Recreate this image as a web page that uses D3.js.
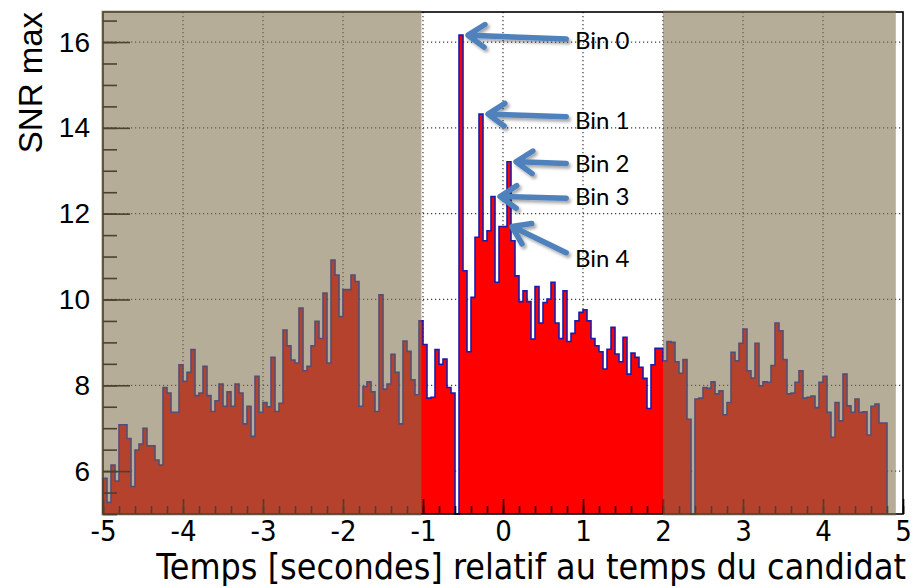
<!DOCTYPE html>
<html>
<head>
<meta charset="utf-8">
<script src="https://cdn.jsdelivr.net/npm/d3@7"></script>
<style>
  body { margin: 0; background: #fff; }
  svg { display: block; }
</style>
</head>
<body>
<div id="chart"></div>
<script>
// histogram bins: start, width and max SNR of each bin (0 = empty bin)
var binStart = -5;
var binWidth = 0.05;
var snrValues = [
  5.83, 5.27, 6.14, 5.77, 7.08, 7.08, 6.76, 5.64, 6.49, 6.63,
  7.00, 6.59, 6.59, 6.26, 6.14, 7.95, 7.82, 7.37, 7.37, 8.48,
  8.09, 8.30, 8.83, 7.76, 7.82, 8.44, 7.76, 7.39, 7.64, 8.03,
  7.51, 7.85, 7.51, 8.03, 7.82, 7.10, 7.51, 6.81, 8.21, 7.37,
  7.60, 7.50, 8.65, 7.39, 7.58, 9.29, 8.92, 8.59, 8.52, 9.80,
  8.34, 8.44, 8.92, 9.49, 9.09, 10.15, 8.52, 10.92, 10.57, 9.60,
  10.23, 10.23, 10.57, 10.42, 7.51, 7.97, 8.08, 7.85, 7.39, 10.11,
  7.91, 8.03, 8.72, 8.30, 7.10, 9.03, 8.79, 8.13, 7.78, 9.50,
  8.95, 7.70, 7.72, 8.83, 8.49, 8.61, 7.95, 7.82, 0, 16.16,
  10.67, 8.78, 10.05, 11.45, 14.32, 11.37, 11.60, 12.40, 10.40, 11.70,
  11.70, 13.21, 11.37, 10.55, 9.95, 10.20, 9.95, 9.08, 10.30, 9.45,
  9.93, 10.01, 10.40, 9.45, 9.09, 10.20, 9.02, 9.21, 9.50, 9.70,
  9.76, 9.50, 9.09, 8.92, 8.78, 8.38, 8.84, 9.35, 8.73, 8.55,
  9.12, 8.26, 8.75, 8.65, 8.42, 8.16, 7.46, 8.48, 8.86, 8.86,
  8.57, 9.02, 9.00, 8.55, 8.28, 8.60, 7.21, 0, 7.68, 7.70,
  7.95, 7.93, 8.08, 7.80, 7.87, 7.31, 7.60, 8.77, 8.57, 8.98,
  9.31, 8.34, 8.17, 8.98, 7.99, 8.08, 8.07, 8.46, 9.45, 9.27,
  8.60, 7.80, 7.82, 8.07, 8.34, 7.70, 7.72, 7.75, 7.48, 8.07,
  8.21, 7.37, 6.79, 7.60, 7.17, 8.26, 7.52, 7.37, 7.68, 7.37,
  7.38, 6.84, 7.51, 7.56, 7.12, 7.12
];

// shaded (off-source) time windows
var shadeRanges = [[-5.02, -1.02], [2.0, 4.91]];

// axis ticks
var xMajorTicks = [-5, -4, -3, -2, -1, 0, 1, 2, 3, 4, 5];
var yMajorTicks = [6, 8, 10, 12, 14, 16];

// annotations: label, bin index, label baseline and arrow tail height (SNR units)
var annotLabels = ["Bin 0", "Bin 1", "Bin 2", "Bin 3", "Bin 4"];
var annotBins = [89, 94, 101, 97, 100];
var annotLabelY = [15.84, 13.97, 12.98, 12.21, 10.76];
var annotTailY = [16.07, 14.26, 13.17, 12.36, 11.09];
var annotLabelX = 0.9;
var annotTailX = 0.79;

var svgWidth = 914;
var svgHeight = 588;

var frame = { left: 103, right: 903, top: 12, bottom: 514 };

var svg = d3.select("#chart")
  .append("svg")
  .attr("width", svgWidth)
  .attr("height", svgHeight);

var defs = svg.append("defs");
var shadow = defs.append("filter")
  .attr("id", "shadow")
  .attr("x", "-20%").attr("y", "-50%")
  .attr("width", "140%").attr("height", "200%");
shadow.append("feDropShadow")
  .attr("dx", 2).attr("dy", 2.5)
  .attr("stdDeviation", 1.5)
  .attr("flood-color", "#000")
  .attr("flood-opacity", 0.35);

var x = d3.scaleLinear()
  .domain([-5, 5])
  .range([frame.left, frame.right]);

var y = d3.scaleLinear()
  .domain([5, 16.7])
  .range([frame.bottom, frame.top])
  .clamp(true);

// dotted grid
var grid = svg.append("g")
  .attr("stroke", "#3a3a3a")
  .attr("stroke-width", 1.2)
  .attr("stroke-dasharray", "1.2,2.8");

grid.selectAll(".vgrid")
  .data(xMajorTicks.slice(1, -1))
  .enter()
  .append("line")
  .attr("x1", d => x(d))
  .attr("x2", d => x(d))
  .attr("y1", frame.top)
  .attr("y2", frame.bottom);

grid.selectAll(".hgrid")
  .data(yMajorTicks)
  .enter()
  .append("line")
  .attr("x1", frame.left)
  .attr("x2", frame.right)
  .attr("y1", d => y(d))
  .attr("y2", d => y(d));

// histogram as a step outline
var stepPoints = [[binStart, 0]];
snrValues.forEach(function(v, i) {
  var x0 = binStart + i * binWidth;
  stepPoints.push([x0, v]);
  stepPoints.push([x0 + binWidth, v]);
});
stepPoints.push([binStart + snrValues.length * binWidth, 0]);

var stepLine = d3.line()
  .x(d => x(d[0]))
  .y(d => y(d[1]));

svg.append("path")
  .datum(stepPoints)
  .attr("d", stepLine)
  .attr("fill", "#ff0000")
  .attr("stroke", "#1c1ca8")
  .attr("stroke-width", 1.6)
  .attr("stroke-linejoin", "miter");

// axes with ticks pointing inwards
var xAxisMinor = d3.axisBottom(x)
  .tickValues(d3.range(-5, 5.001, 0.2))
  .tickSize(-8)
  .tickFormat("");

var xAxisMajor = d3.axisBottom(x)
  .tickValues(xMajorTicks)
  .tickSize(-15)
  .tickPadding(8)
  .tickFormat(d => d);

var yAxisMinor = d3.axisLeft(y)
  .tickValues(d3.range(5, 16.7, 0.5))
  .tickSize(-14)
  .tickFormat("");

var yAxisMajor = d3.axisLeft(y)
  .tickValues(yMajorTicks)
  .tickSize(-27)
  .tickPadding(13)
  .tickFormat(d => d);

var xg1 = svg.append("g")
  .attr("transform", `translate(0, ${frame.bottom})`)
  .call(xAxisMinor);
var xg2 = svg.append("g")
  .attr("transform", `translate(0, ${frame.bottom})`)
  .call(xAxisMajor);
var yg1 = svg.append("g")
  .attr("transform", `translate(${frame.left}, 0)`)
  .call(yAxisMinor);
var yg2 = svg.append("g")
  .attr("transform", `translate(${frame.left}, 0)`)
  .call(yAxisMajor);

[xg1, xg2, yg1, yg2].forEach(function(g) {
  g.select(".domain").remove();
  g.selectAll(".tick line").attr("stroke", "#000").attr("stroke-width", 1.6);
});

xg2.selectAll(".tick text")
  .attr("fill", "#000")
  .attr("font-family", "'DejaVu Sans Condensed', 'DejaVu Sans', sans-serif")
  .attr("font-size", 29)
  .attr("dy", "0.71em")
  .attr("y", 6);

yg2.selectAll(".tick text")
  .attr("fill", "#000")
  .attr("font-family", "'Liberation Sans', Arial, sans-serif")
  .attr("font-size", 28);

// frame
svg.append("rect")
  .attr("x", frame.left)
  .attr("y", frame.top)
  .attr("width", frame.right - frame.left)
  .attr("height", frame.bottom - frame.top)
  .attr("fill", "none")
  .attr("stroke", "#000")
  .attr("stroke-width", 1.6);

// semi-transparent shading of the off-source windows
svg.selectAll(".shade")
  .data(shadeRanges)
  .enter()
  .append("rect")
  .attr("x", d => x(d[0]))
  .attr("y", frame.top - 1.5)
  .attr("width", d => x(d[1]) - x(d[0]))
  .attr("height", frame.bottom - frame.top + 3)
  .attr("fill", "rgb(127,114,76)")
  .attr("fill-opacity", 0.58);

// axis titles
svg.append("text")
  .attr("x", 906)
  .attr("y", 579)
  .attr("text-anchor", "end")
  .attr("font-family", "'DejaVu Sans Condensed', 'DejaVu Sans', sans-serif")
  .attr("font-size", 35.5)
  .attr("fill", "#000")
  .text("Temps [secondes] relatif au temps du candidat");

svg.append("text")
  .attr("transform", "translate(42, 12) rotate(-90)")
  .attr("text-anchor", "end")
  .attr("font-family", "'Liberation Sans', Arial, sans-serif")
  .attr("font-size", 33)
  .attr("fill", "#000")
  .text("SNR max");

// annotation arrows pointing at the peak bins
var arrowColor = "#4f81bd";
var annot = svg.append("g").attr("filter", "url(#shadow)");

annotBins.forEach(function(b, i) {
  var tipX = x(binStart + (b + 1) * binWidth) + 5;
  var tipY = y(snrValues[b]);
  var tailX = x(annotTailX);
  var tailY = y(annotTailY[i]);
  var ang = Math.atan2(tailY - tipY, tailX - tipX);
  var headLen = 20, headSpread = 0.6;
  var h1 = [tipX + headLen * Math.cos(ang + headSpread), tipY + headLen * Math.sin(ang + headSpread)];
  var h2 = [tipX + headLen * Math.cos(ang - headSpread), tipY + headLen * Math.sin(ang - headSpread)];

  annot.append("path")
    .attr("d", `M${tailX},${tailY}L${tipX + 3 * Math.cos(ang)},${tipY + 3 * Math.sin(ang)}`
      + `M${h1[0]},${h1[1]}L${tipX},${tipY}L${h2[0]},${h2[1]}`)
    .attr("fill", "none")
    .attr("stroke", arrowColor)
    .attr("stroke-width", 5.5)
    .attr("stroke-linecap", "round")
    .attr("stroke-linejoin", "round");
});

svg.selectAll(".annotLabel")
  .data(annotLabels)
  .enter()
  .append("text")
  .attr("x", x(annotLabelX))
  .attr("y", (d, i) => y(annotLabelY[i]))
  .attr("font-family", "Lato, 'Open Sans', sans-serif")
  .attr("font-size", 24)
  .attr("fill", "#000")
  .text(d => d);
</script>
</body>
</html>
